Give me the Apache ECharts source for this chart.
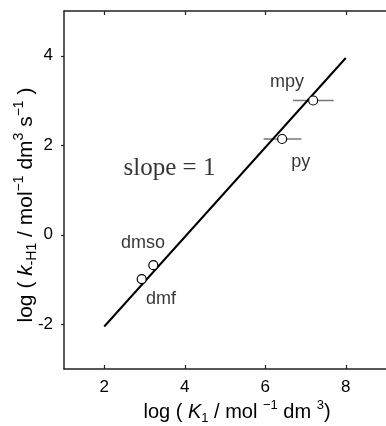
<!DOCTYPE html>
<html>
<head>
<meta charset="utf-8">
<script src="https://cdn.jsdelivr.net/npm/echarts@6/dist/echarts.min.js"></script>
<style>
  html, body { margin: 0; padding: 0; background: #fff; }
  #chart { width: 386px; height: 426px; }
</style>
</head>
<body>
<div id="chart"></div>
<script>
// log K1 vs log k-H1, fitted line slope = 1

const solvents = ['dmf', 'dmso', 'py', 'mpy'];
const logK1 = [2.93, 3.22, 6.42, 7.19];
const logkH1 = [-0.99, -0.68, 2.14, 3.0];
// horizontal error bars (only py and mpy)
const errLow = [null, null, 5.96, 6.69];
const errHigh = [null, null, 6.90, 7.70];

const fitX = [2, 8];
const fitY = [-2.05, 3.95];

const xTicks = [2, 4, 6, 8];
const yTicks = [-2, 0, 2, 4];

// text labels in data coordinates
const noteText = ['mpy', 'py', 'dmso', 'dmf'];
const noteX = [6.54, 6.88, 2.96, 3.41];
const noteY = [3.41, 1.63, -0.18, -1.44];
const slopeNote = { text: 'slope = 1', x: 3.62, y: 1.49 };

const FONT = '"Liberation Sans", Arial, sans-serif';
const INK = '#000';

const chart = echarts.init(document.getElementById('chart'));

const pointData = logK1.map((x, i) => [x, logkH1[i]]);
const barData = [];
errLow.forEach((lo, i) => {
    if (lo !== null) barData.push([logK1[i], lo, errHigh[i], logkH1[i]]);
});
const noteData = noteText.map((t, i) => ({ value: [noteX[i], noteY[i]], name: t }));

function titleRich(size) {
    const base = { fontSize: size, fontFamily: FONT, color: INK, lineHeight: size + 6 };
    const small = Math.round(size * 0.65);
    return {
        i: Object.assign({}, base, { fontStyle: 'italic' }),
        sub: { fontSize: small, fontFamily: FONT, color: INK, verticalAlign: 'bottom', lineHeight: size + 6 },
        sup: { fontSize: small, fontFamily: FONT, color: INK, verticalAlign: 'top', lineHeight: size + 6 }
    };
}

const axisLineStyle = { color: '#222', width: 1.5 };
const tickLineStyle = { color: '#222', width: 1.2 };

const option = {
    animation: false,
    backgroundColor: '#fff',
    grid: { left: 64, top: 11, right: -10, bottom: 57 },
    xAxis: [
        {
            type: 'value', min: 1, max: 9, position: 'bottom',
            axisLine: { onZero: false, lineStyle: axisLineStyle },
            axisTick: { inside: true, length: 4, customValues: xTicks, lineStyle: tickLineStyle },
            axisLabel: { customValues: xTicks, margin: 10, fontSize: 17, fontFamily: FONT, color: INK },
            splitLine: { show: false }
        },
        {
            type: 'value', min: 1, max: 9, position: 'top',
            axisLine: { onZero: false, lineStyle: axisLineStyle },
            axisTick: { inside: true, length: 4, customValues: xTicks, lineStyle: tickLineStyle },
            axisLabel: { show: false },
            splitLine: { show: false }
        }
    ],
    yAxis: {
        type: 'value', min: -3, max: 5,
        axisLine: { show: true, onZero: false, lineStyle: axisLineStyle },
        axisTick: { show: true, inside: false, length: 3, customValues: yTicks, lineStyle: tickLineStyle },
        axisLabel: { customValues: yTicks, margin: 11, fontSize: 17, fontFamily: FONT, color: INK },
        splitLine: { show: false }
    },
    series: [
        {
            type: 'line',
            data: fitX.map((x, i) => [x, fitY[i]]),
            symbol: 'none',
            lineStyle: { color: INK, width: 2 },
            z: 2
        },
        {
            type: 'custom',
            data: barData,
            encode: { x: [1, 2], y: 3 },
            renderItem: function (params, api) {
                const y = api.value(3);
                const p1 = api.coord([api.value(1), y]);
                const p2 = api.coord([api.value(2), y]);
                return {
                    type: 'line',
                    shape: { x1: p1[0], y1: p1[1], x2: p2[0], y2: p2[1] },
                    style: { stroke: '#777', lineWidth: 1.5 }
                };
            },
            z: 1
        },
        {
            type: 'scatter',
            data: pointData,
            symbol: 'circle',
            symbolSize: 9,
            itemStyle: { color: '#fff', borderColor: INK, borderWidth: 1.2, opacity: 1 },
            z: 3
        },
        {
            type: 'scatter',
            data: noteData,
            symbolSize: 0,
            silent: true,
            label: {
                show: true, position: 'inside',
                formatter: p => p.name,
                fontSize: 18, fontFamily: FONT, color: INK
            },
            z: 4
        },
        {
            type: 'scatter',
            data: [{ value: [slopeNote.x, slopeNote.y], name: slopeNote.text }],
            symbolSize: 0,
            silent: true,
            label: {
                show: true, position: 'inside',
                formatter: p => p.name,
                fontSize: 25, fontFamily: '"Liberation Serif", "Times New Roman", serif', color: INK
            },
            z: 4
        }
    ],
    graphic: [
        {
            type: 'text',
            x: 237, y: 412,
            style: {
                text: 'log ( {i|K}{sub|1} / mol {sup|\u22121} dm {sup|3})',
                align: 'center', verticalAlign: 'middle',
                fontSize: 20, fontFamily: FONT, fill: INK,
                rich: titleRich(20)
            }
        },
        {
            type: 'text',
            x: 26, y: 205,
            rotation: Math.PI / 2,
            style: {
                text: 'log ( {i|k}{sub|-H1} / mol{sup|\u22121} dm{sup|3} s{sup|\u22121} )',
                align: 'center', verticalAlign: 'middle',
                fontSize: 21, fontFamily: FONT, fill: INK,
                rich: titleRich(21)
            }
        }
    ]
};

chart.setOption(option);
</script>
</body>
</html>
